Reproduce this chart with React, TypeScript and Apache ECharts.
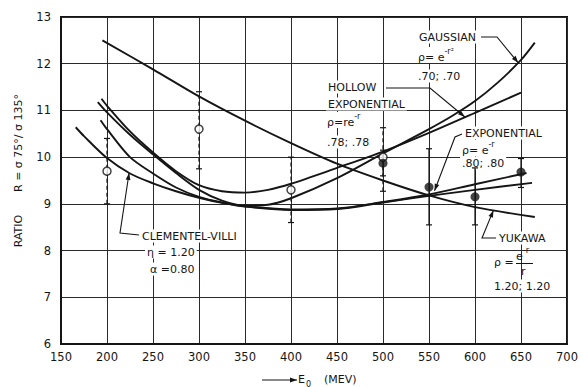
import React, { useEffect, useRef } from "react";
import * as echarts from "echarts";

// ---- data ----
const xRange = [150, 700];
const yRange = [6, 13];

const gaussianCurve = [[190, 11.18], [200, 10.96], [225, 10.48], [250, 10.06], [275, 9.66], [300, 9.3], [325, 9.07], [350, 8.96], [375, 8.98], [400, 9.12], [450, 9.55], [500, 10.08], [550, 10.6], [575, 10.88], [600, 11.2], [625, 11.6], [650, 12.08], [665, 12.45]];
const hollowCurve = [[194, 11.25], [200, 11.1], [225, 10.55], [250, 10.1], [275, 9.7], [300, 9.4], [325, 9.27], [350, 9.24], [375, 9.3], [400, 9.43], [450, 9.77], [500, 10.12], [550, 10.52], [600, 10.95], [650, 11.38]];
const exponentialCurve = [[193, 10.79], [200, 10.6], [225, 10.0], [250, 9.65], [275, 9.35], [300, 9.15], [325, 9.03], [350, 8.95], [400, 8.88], [450, 8.9], [500, 9.04], [550, 9.2], [600, 9.42], [656, 9.66]];
const clementelCurve = [[166, 10.64], [175, 10.45], [200, 9.98], [225, 9.65], [250, 9.44], [275, 9.27], [300, 9.13], [325, 9.02], [350, 8.94], [400, 8.87], [450, 8.89], [500, 9.03], [550, 9.17], [600, 9.3], [662, 9.45]];
const yukawaCurve = [[195, 12.5], [250, 11.88], [300, 11.3], [350, 10.78], [400, 10.3], [450, 9.86], [500, 9.5], [550, 9.18], [600, 8.93], [665, 8.72]];

const openX = [200, 300, 400, 500];
const openY = [9.7, 10.6, 9.3, 10.0];
const openLow = [9.0, 9.75, 8.6, 9.27];
const openHigh = [10.4, 11.4, 10.0, 10.63];

const filledX = [500, 550, 600, 650];
const filledY = [9.87, 9.36, 9.15, 9.68];
const filledLow = [9.6, 8.55, 8.55, 9.35];
const filledHigh = [10.15, 10.18, 9.77, 9.97];

// annotation arrow tips (data coordinates on the curves)
const gaussTip = [647, 12.02];
const hollowTip = [589, 10.86];
const expTip = [556, 9.28];
const yukawaTip = [620, 8.86];
const cvTip = [224, 9.66];

const FONT = "DejaVu Sans";
const INK = "#151515";

const supRich = {
  b: { fontSize: 11, fontFamily: FONT, color: INK, lineHeight: 16, verticalAlign: "bottom" },
  s: { fontSize: 8, fontFamily: FONT, color: INK, lineHeight: 10, verticalAlign: "top" },
};

function txt(x: number, y: number, text: string, size = 11, extra: any = {}) {
  return {
    type: "text",
    x,
    y,
    silent: true,
    ...extra,
    style: {
      text,
      fontSize: size,
      fontFamily: FONT,
      fill: INK,
      align: "left",
      verticalAlign: "middle",
      ...(extra.style || {}),
    },
  };
}

function formula(x: number, y: number, text: string, bg = true) {
  return {
    type: "text",
    x,
    y,
    silent: true,
    style: {
      text,
      rich: supRich,
      fontSize: 11,
      fontFamily: FONT,
      fill: INK,
      align: "left",
      verticalAlign: "middle",
      backgroundColor: bg ? "#ffffff" : "transparent",
      padding: [0, 2, 0, 2],
    },
  };
}

function leader(pts: number[][]) {
  const n = pts.length;
  const a = pts[n - 2];
  const b = pts[n - 1];
  const dx = b[0] - a[0];
  const dy = b[1] - a[1];
  const len = Math.sqrt(dx * dx + dy * dy) || 1;
  const ux = dx / len;
  const uy = dy / len;
  const nx = -uy;
  const ny = ux;
  const L = 7;
  const W = 2.4;
  return [
    {
      type: "polyline",
      silent: true,
      shape: { points: pts },
      style: { stroke: INK, lineWidth: 1.1, fill: null },
    },
    {
      type: "polygon",
      silent: true,
      shape: {
        points: [
          [b[0], b[1]],
          [b[0] - L * ux + W * nx, b[1] - L * uy + W * ny],
          [b[0] - L * ux - W * nx, b[1] - L * uy - W * ny],
        ],
      },
      style: { fill: INK },
    },
  ];
}

function errorRender(dashed: boolean) {
  return (params: any, api: any) => {
    const x = api.value(0);
    const lo = api.coord([x, api.value(1)]);
    const hi = api.coord([x, api.value(2)]);
    const cap = 3;
    const st = { stroke: INK, lineWidth: 1.2 };
    return {
      type: "group",
      children: [
        { type: "line", shape: { x1: lo[0], y1: lo[1], x2: hi[0], y2: hi[1] }, style: { ...st, lineDash: dashed ? [4, 3] : null } },
        { type: "line", shape: { x1: hi[0] - cap, y1: hi[1], x2: hi[0] + cap, y2: hi[1] }, style: st },
        { type: "line", shape: { x1: lo[0] - cap, y1: lo[1], x2: lo[0] + cap, y2: lo[1] }, style: st },
      ],
    };
  };
}

function curveSeries(name: string, data: number[][]) {
  return {
    name,
    type: "line",
    data,
    smooth: 0.3,
    showSymbol: false,
    symbol: "none",
    lineStyle: { color: INK, width: 1.9 },
    z: 3,
  };
}

export default function App() {
  const ref = useRef<HTMLDivElement>(null);
  useEffect(() => {
    if (!ref.current) return;
    const chart = echarts.init(ref.current, null, { renderer: "svg" });
    const option: any = {
      animation: false,
      backgroundColor: "#ffffff",
      grid: { left: 61, right: 14, top: 17, bottom: 43, show: true, borderColor: INK, borderWidth: 2, backgroundColor: "transparent", containLabel: false },
      xAxis: {
        type: "value",
        min: xRange[0],
        max: xRange[1],
        interval: 50,
        axisLine: { show: true, lineStyle: { color: INK, width: 2 } },
        axisTick: { show: false },
        splitLine: { show: true, lineStyle: { color: "#2a2a2a", width: 1 } },
        axisLabel: { color: INK, fontSize: 11.5, fontFamily: FONT, margin: 7 },
      },
      yAxis: {
        type: "value",
        min: yRange[0],
        max: yRange[1],
        interval: 1,
        axisLine: { show: true, lineStyle: { color: INK, width: 2 } },
        axisTick: { show: false },
        splitLine: { show: true, lineStyle: { color: "#2a2a2a", width: 1 } },
        axisLabel: { color: INK, fontSize: 11.5, fontFamily: FONT, margin: 10 },
      },
      series: [
        curveSeries("Gaussian", gaussianCurve),
        curveSeries("Hollow exponential", hollowCurve),
        curveSeries("Exponential", exponentialCurve),
        curveSeries("Clementel-Villi", clementelCurve),
        curveSeries("Yukawa", yukawaCurve),
        {
          type: "custom",
          name: "open errors",
          renderItem: errorRender(true),
          data: openX.map((x, i) => [x, openLow[i], openHigh[i]]),
          encode: { x: 0, y: [1, 2] },
          z: 4,
        },
        {
          type: "custom",
          name: "filled errors",
          renderItem: errorRender(false),
          data: filledX.map((x, i) => [x, filledLow[i], filledHigh[i]]),
          encode: { x: 0, y: [1, 2] },
          z: 4,
        },
        {
          type: "scatter",
          name: "open",
          data: openX.map((x, i) => [x, openY[i]]),
          symbol: "circle",
          symbolSize: 8,
          itemStyle: { color: "#ffffff", borderColor: INK, borderWidth: 1.5 },
          z: 5,
        },
        {
          type: "scatter",
          name: "filled",
          data: filledX.map((x, i) => [x, filledY[i]]),
          symbol: "circle",
          symbolSize: 9,
          itemStyle: { color: INK },
          z: 6,
        },
      ],
    };
    chart.setOption(option);

    const px = (d: number[]) => chart.convertToPixel({ gridIndex: 0 }, d) as number[];
    const g = px(gaussTip);
    const h = px(hollowTip);
    const e = px(expTip);
    const yk = px(yukawaTip);
    const cv = px(cvTip);

    const textBg = { style: { backgroundColor: "#ffffff", padding: [1, 2, 1, 2] } };

    const graphics: any[] = [
      // Gaussian
      txt(417, 37, "GAUSSIAN", 11, textBg),
      formula(416, 55, "{b|ρ= e}{s|-r²}"),
      txt(416, 76, ".70; .70", 11, textBg),
      ...leader([[481, 37], [497, 37], g]),
      // Hollow exponential
      txt(326, 87, "HOLLOW", 11, textBg),
      txt(326, 104, "EXPONENTIAL", 11, textBg),
      formula(325, 120, "{b|ρ=re}{s|-r}"),
      txt(325, 142, ".78; .78", 11, textBg),
      ...leader([[386, 88], [430, 88], h]),
      // Exponential
      txt(463, 133, "EXPONENTIAL", 11, textBg),
      formula(460, 148, "{b|ρ= e}{s|-r}"),
      txt(460, 163, ".80; .80", 11, textBg),
      ...leader([[462, 134], [455, 137], e]),
      // Yukawa
      txt(497, 238, "YUKAWA", 11, textBg),
      txt(492, 262, "ρ =", 11, textBg),
      formula(514, 254, "{b|e}{s|-r}", false),
      { type: "line", silent: true, shape: { x1: 516, y1: 263.5, x2: 533, y2: 263.5 }, style: { stroke: INK, lineWidth: 1 } },
      txt(521, 271, "r", 11),
      txt(492, 286, "1.20; 1.20", 11, textBg),
      ...leader([[496, 238], [482, 238], yk]),
      // Clementel-Villi
      txt(140, 236, "CLEMENTEL-VILLI", 11, textBg),
      txt(145, 252, "η = 1.20", 11, textBg),
      txt(148, 269, "α =0.80", 11, textBg),
      ...leader([[139, 235], [120, 233], cv]),
      // y axis title
      txt(18, 231, "RATIO", 11, { rotation: Math.PI / 2, style: { align: "center" } }),
      txt(18, 143, "R = σ 75°/ σ 135°", 11, { rotation: Math.PI / 2, style: { align: "center" } }),
      // x axis title
      ...leader([[262, 380], [297, 380]]),
      txt(298, 379, "E", 11),
      txt(306, 384, "0", 8),
      txt(324, 379, "(MEV)", 11),
    ];
    chart.setOption({ graphic: { elements: graphics } });
    return () => chart.dispose();
  }, []);
  return <div ref={ref} style={{ position: "absolute", left: 0, top: 0, width: 581, height: 387 }} />;
}
